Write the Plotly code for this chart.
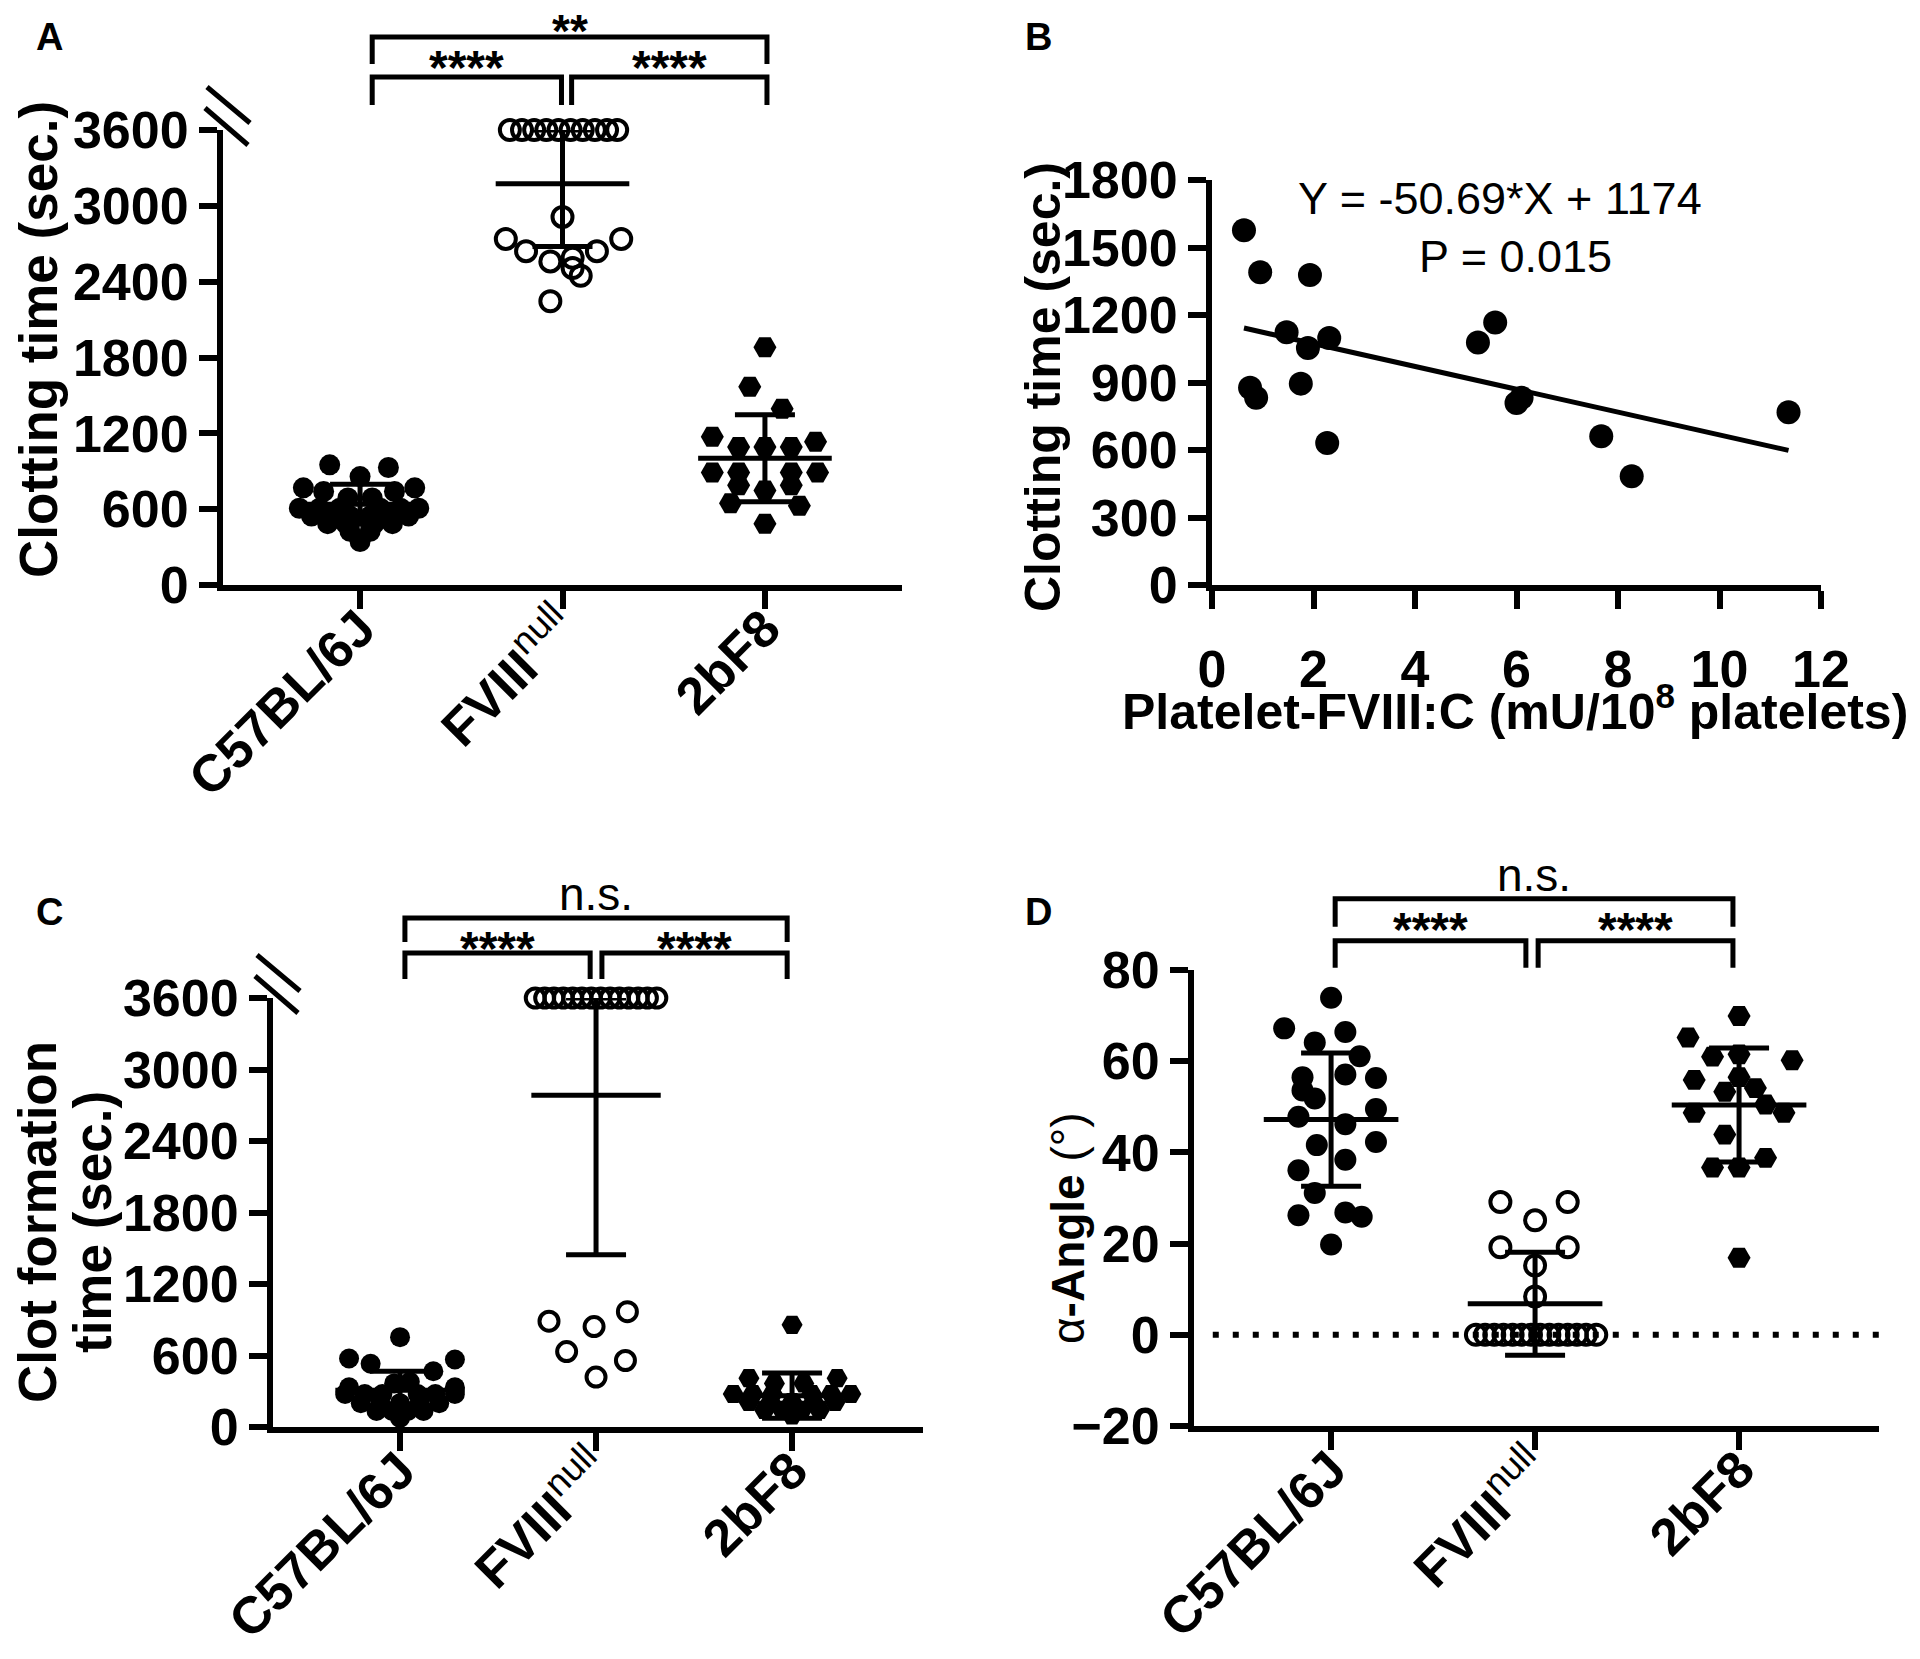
import plotly.graph_objects as go

W, H = 1920, 1659          # browser window
OFF = 8                    # default <body> margin of the page
FW, FH = W - 2 * OFF, H - 2 * OFF
FONT = "Arial, 'Liberation Sans', Helvetica, sans-serif"

# ---------------- data ----------------
group_ticktext = ["<b>C57BL/6J</b>", "<b>FVIII</b><sup>null</sup>", "<b>2bF8</b>"]

# Panel A: clotting time (sec.)
a_c57_off = [-0.15, 0.14, 0.0, -0.28, 0.27, -0.18, 0.17, -0.06, 0.06,
             -0.30, -0.20, -0.10, 0.10, 0.20, 0.29,
             -0.24, -0.14, -0.05, 0.05, 0.14, 0.24,
             -0.16, -0.07, 0.07, 0.16, -0.05, 0.05, 0.0]
a_c57_val = [951, 930, 858, 769, 769, 740, 740, 688, 688,
             607, 607, 607, 607, 607, 607,
             546, 546, 546, 546, 546, 546,
             485, 485, 485, 485, 425, 425, 344]
a_fviii_off = [-0.26, -0.20, -0.14, -0.08, -0.02, 0.04, 0.10, 0.16, 0.22, 0.27,
               0.0, -0.28, 0.29, -0.18, 0.17, -0.06, 0.05, 0.05, 0.09, -0.06]
a_fviii_val = [3600, 3600, 3600, 3600, 3600, 3600, 3600, 3600, 3600, 3600,
               2912, 2738, 2738, 2641, 2641, 2560, 2589, 2508, 2447, 2245]
a_2bf8_off = [0.0, -0.075, 0.085, -0.26, 0.25, -0.13, 0.0, 0.13,
              -0.26, -0.13, 0.13, 0.26, -0.13, 0.0, 0.13, -0.17, 0.17, 0.0]
a_2bf8_val = [1881, 1569, 1395, 1173, 1133, 1092, 1092, 1092,
              890, 890, 890, 890, 789, 748, 789, 647, 627, 485]
a_means = [639, 3175, 1003]
a_sds = [158, 497, 345]
a_yticks = [0, 600, 1200, 1800, 2400, 3000, 3600]

# Panel B: platelet FVIII:C vs clotting time
b_x = [0.63, 0.95, 1.93, 1.47, 1.89, 2.31, 0.75, 0.87, 1.75, 2.27,
       5.24, 5.58, 6.00, 6.10, 7.67, 8.27, 11.36]
b_y = [1577, 1390, 1378, 1123, 1053, 1098, 877, 832, 895, 631,
       1078, 1167, 809, 832, 661, 483, 768]
b_slope = -50.69
b_intercept = 1174
b_xticks = [0, 2, 4, 6, 8, 10, 12]
b_yticks = [0, 300, 600, 900, 1200, 1500, 1800]

# Panel C: clot formation time (sec.)
c_c57_off = [0.0, -0.26, 0.28, -0.15, 0.17, 0.05, -0.03, -0.26, 0.28,
             -0.28, -0.18, -0.09, 0.09, 0.18, 0.28,
             -0.20, -0.10, 0.0, 0.10, 0.20,
             -0.12, -0.04, 0.04, 0.12, 0.0]
c_c57_val = [754, 575, 566, 531, 468, 379, 366, 334, 334,
             277, 277, 277, 277, 277, 277,
             200, 200, 200, 200, 200,
             134, 134, 134, 134, 76]
c_fviii_off = [-0.31, -0.262, -0.215, -0.167, -0.119, -0.072, -0.024,
               0.024, 0.072, 0.119, 0.167, 0.215, 0.262, 0.31,
               -0.24, -0.01, 0.16, -0.15, 0.15, 0.0]
c_fviii_val = [3600] * 14 + [888, 843, 968, 633, 558, 419]
c_2bf8_off = [0.0, -0.22, -0.09, 0.06, 0.23,
              -0.30, -0.20, -0.10, 0.10, 0.20, 0.30,
              -0.22, -0.11, 0.0, 0.11, 0.22,
              -0.14, -0.05, 0.05, 0.14, 0.0]
c_2bf8_val = [857, 410, 366, 366, 410,
              277, 277, 277, 277, 277, 277,
              210, 210, 210, 210, 210,
              143, 143, 143, 143, 98]
c_means = [308, 2784, 263]
c_sds = [160, 1339, 190]
c_yticks = [0, 600, 1200, 1800, 2400, 3000, 3600]

# Panel D: alpha-angle (deg)
d_c57_off = [0.0, -0.23, 0.07, -0.08, 0.14, -0.14, 0.07, 0.22, -0.14, -0.08,
             0.22, -0.16, 0.07, 0.22, -0.07, 0.07, -0.16, -0.08, -0.16, 0.07, 0.15, 0.0]
d_c57_val = [73.9, 67.2, 66.4, 64.1, 61.1, 56.5, 57.1, 56.3, 53.6, 51.8,
             49.5, 47.8, 46.2, 42.3, 41.6, 38.4, 36.1, 31.1, 26.2, 26.8, 25.9, 19.8]
d_fviii_off = [-0.17, 0.16, 0.0, -0.17, 0.16, 0.0, 0.0,
               -0.29, -0.245, -0.2, -0.155, -0.11, -0.065, -0.02,
               0.025, 0.07, 0.115, 0.16, 0.205, 0.25, 0.30]
d_fviii_val = [29.1, 29.1, 25.1, 19.2, 19.2, 15.2, 8.4] + [0] * 14
d_2bf8_off = [0.0, -0.25, -0.13, 0.0, 0.26, -0.22, 0.0, -0.07, 0.08,
              -0.22, 0.22, 0.13, -0.07, -0.13, 0.0, 0.13, 0.0]
d_2bf8_val = [69.9, 65.2, 61.0, 61.5, 60.2, 55.9, 56.5, 53.3, 54.1,
              48.7, 48.7, 50.5, 43.9, 36.7, 36.7, 38.8, 16.9]
d_means = [47.2, 6.8, 50.4]
d_sds = [14.6, 11.3, 12.5]
d_yticks = [-20, 0, 20, 40, 60, 80]

# ---------------- layout boxes (screen pixels) ----------------
panels = {
    "A": dict(x=(223, 902), y=(130, 585), xr=[-0.677, 2.677], yr=[0, 3600], ax=("x", "y")),
    "B": dict(x=(1212, 1821), y=(180, 585), xr=[0, 12], yr=[0, 1800], ax=("x2", "y2")),
    "C": dict(x=(273, 923), y=(998, 1427), xr=[-0.648, 2.668], yr=[0, 3600], ax=("x3", "y3")),
    "D": dict(x=(1194, 1879), y=(970, 1426), xr=[-0.672, 2.686], yr=[-20, 80], ax=("x4", "y4")),
}


def px_x(p, v):
    P = panels[p]
    return P["x"][0] + (v - P["xr"][0]) / (P["xr"][1] - P["xr"][0]) * (P["x"][1] - P["x"][0])


def px_y(p, v):
    P = panels[p]
    return P["y"][1] - (v - P["yr"][0]) / (P["yr"][1] - P["yr"][0]) * (P["y"][1] - P["y"][0])


def paper(px, py):
    return (px - OFF) / FW, 1 - (py - OFF) / FH


fig = go.Figure()

LW = 5


def add_group(p, idx, off, val, symbol, size, open_=False):
    xa, ya = panels[p]["ax"]
    fig.add_trace(go.Scatter(
        x=[idx + o for o in off], y=val, mode="markers", cliponaxis=False,
        marker=dict(symbol=symbol, size=size,
                    color="black", line=dict(width=4 if open_ else 0, color="black")),
        xaxis=xa, yaxis=ya, showlegend=False, hoverinfo="skip"))


def add_stats(p, means, sds):
    xa, ya = panels[p]["ax"]
    ymax = panels[p]["yr"][1]
    upper = [min(m + s, ymax) - m for m, s in zip(means, sds)]
    mx, my = [], []
    for i, m in enumerate(means):
        mx += [i - 0.33, i + 0.33, None]
        my += [m, m, None]
    fig.add_trace(go.Scatter(x=mx, y=my, mode="lines", line=dict(color="black", width=LW),
                             xaxis=xa, yaxis=ya, showlegend=False, hoverinfo="skip"))
    fig.add_trace(go.Scatter(
        x=[0, 1, 2], y=means, mode="markers", marker=dict(size=2, color="rgba(0,0,0,0)"),
        error_y=dict(type="data", symmetric=False, array=upper, arrayminus=sds,
                     width=30, thickness=LW, color="black"),
        xaxis=xa, yaxis=ya, showlegend=False, hoverinfo="skip"))


# Panel A
add_group("A", 0, a_c57_off, a_c57_val, "circle", 21)
add_group("A", 1, a_fviii_off, a_fviii_val, "circle-open", 20, open_=True)
add_group("A", 2, a_2bf8_off, a_2bf8_val, "hexagon2", 23)
add_stats("A", a_means, a_sds)

# Panel B
fig.add_trace(go.Scatter(x=b_x, y=b_y, mode="markers", cliponaxis=False,
                         marker=dict(size=24, color="black"), xaxis="x2", yaxis="y2",
                         showlegend=False, hoverinfo="skip"))
fx = [min(b_x), max(b_x)]
fig.add_trace(go.Scatter(x=fx, y=[b_slope * v + b_intercept for v in fx], mode="lines",
                         line=dict(color="black", width=LW), xaxis="x2", yaxis="y2",
                         showlegend=False, hoverinfo="skip"))

# Panel C
add_group("C", 0, c_c57_off, c_c57_val, "circle", 20)
add_group("C", 1, c_fviii_off, c_fviii_val, "circle-open", 19, open_=True)
add_group("C", 2, c_2bf8_off, c_2bf8_val, "hexagon2", 21)
add_stats("C", c_means, c_sds)

# Panel D
fig.add_trace(go.Scatter(x=[-0.58, panels["D"]["xr"][1]], y=[0, 0], mode="lines",
                         line=dict(color="black", width=6, dash="6px,14px"),
                         xaxis="x4", yaxis="y4", showlegend=False, hoverinfo="skip"))
add_group("D", 0, d_c57_off, d_c57_val, "circle", 22)
add_group("D", 1, d_fviii_off, d_fviii_val, "circle-open", 20, open_=True)
add_group("D", 2, d_2bf8_off, d_2bf8_val, "hexagon2", 23)
add_stats("D", d_means, d_sds)

# ---------------- axes ----------------
TICK_SIZE = 52
common = dict(showline=True, linewidth=6, linecolor="black", ticks="outside", ticklen=18,
              tickwidth=6, tickcolor="black", showgrid=False, zeroline=False, fixedrange=True,
              automargin=False)
lay = {}
for key, p in zip(["", "2", "3", "4"], ["A", "B", "C", "D"]):
    P = panels[p]
    x0p, _ = paper(P["x"][0], 0)
    x1p, _ = paper(P["x"][1], 0)
    _, ybot = paper(0, P["y"][1])
    _, ytop = paper(0, P["y"][0])
    ya_name = "y" + key
    xa_name = "x" + key
    if p == "B":
        xa = dict(domain=[x0p, x1p], range=P["xr"], anchor=ya_name, tickvals=b_xticks,
                  ticklabelstandoff=16,
                  tickfont=dict(size=TICK_SIZE, family=FONT, color="black", weight="bold"), **common)
        yt = b_yticks
    else:
        xa = dict(domain=[x0p, x1p], range=P["xr"], anchor=ya_name, tickvals=[0, 1, 2],
                  ticktext=group_ticktext, tickangle=-45, ticklabelstandoff=-32,
                  tickfont=dict(size=TICK_SIZE, family=FONT, color="black"), **common)
        yt = {"A": a_yticks, "C": c_yticks, "D": d_yticks}[p]
    ya = dict(domain=[ybot, ytop], range=P["yr"], anchor=xa_name, tickvals=yt,
              tickfont=dict(size=TICK_SIZE, family=FONT, color="black", weight="bold"), **common)
    lay["xaxis" + key] = xa
    lay["yaxis" + key] = ya

# ---------------- decorations ----------------
shapes = []
annotations = []


def line_px(x0, y0, x1, y1, w=LW):
    a, b = paper(x0, y0)
    c, d = paper(x1, y1)
    shapes.append(dict(type="line", xref="paper", yref="paper", x0=a, y0=b, x1=c, y1=d,
                       line=dict(color="black", width=w)))


def path_px(pts, w=LW):
    s = ""
    for k, (x, y) in enumerate(pts):
        a, b = paper(x, y)
        s += ("M" if k == 0 else "L") + f"{a:.6f},{b:.6f}"
    shapes.append(dict(type="path", xref="paper", yref="paper", path=s,
                       line=dict(color="black", width=w)))


def text_px(x, y, txt, size, bold=False, angle=0):
    a, b = paper(x, y)
    annotations.append(dict(x=a, y=b, xref="paper", yref="paper", text=txt, showarrow=False,
                            xanchor="center", yanchor="middle", textangle=angle,
                            font=dict(size=size, family=FONT, color="black",
                                      weight="bold" if bold else "normal")))


def brackets(p, xl, xm1, xm2, xr, outer_top, outer_end, inner_top, inner_end,
             top_txt, top_y, left_txt, right_txt, star_y):
    X = lambda v: px_x(p, v)
    Y = lambda v: px_y(p, v)
    path_px([(X(xl), Y(outer_end)), (X(xl), Y(outer_top)), (X(xr), Y(outer_top)), (X(xr), Y(outer_end))])
    path_px([(X(xl), Y(inner_end)), (X(xl), Y(inner_top)), (X(xm1), Y(inner_top)), (X(xm1), Y(inner_end))])
    path_px([(X(xm2), Y(inner_end)), (X(xm2), Y(inner_top)), (X(xr), Y(inner_top)), (X(xr), Y(inner_end))])
    top_bold = top_txt.startswith("*")
    text_px((X(xl) + X(xr)) / 2, Y(top_y), top_txt, 46, bold=top_bold)
    text_px((X(xl) + X(xm1)) / 2, Y(star_y), left_txt, 48, bold=True)
    text_px((X(xm2) + X(xr)) / 2, Y(star_y), right_txt, 48, bold=True)


brackets("A", 0.06, 0.995, 1.045, 2.01, 4335, 4122, 4019, 3797, "**", 4385, "****", "****", 4098)
brackets("C", 0.025, 0.97, 1.03, 1.975, 4271, 4070, 3977, 3759, "n.s.", 4473, "****", "****", 4019)
brackets("D", 0.02, 0.955, 1.015, 1.97, 95.6, 89.5, 86.4, 80.5, "n.s.", 100.9, "****", "****", 88.8)


def axis_break(p):
    x0 = panels[p]["x"][0]
    yt = panels[p]["y"][0]
    line_px(x0 - 16, yt - 43, x0 + 27, yt - 7)
    line_px(x0 - 18, yt - 22, x0 + 25, yt + 15)


axis_break("A")
axis_break("C")

# panel letters
text_px(49, 37, "A", 38, bold=True)
text_px(1038, 37, "B", 38, bold=True)
text_px(49, 912, "C", 38, bold=True)
text_px(1038, 912, "D", 38, bold=True)

# axis titles
text_px(39, 340, "Clotting time (sec.)", 53, bold=True, angle=-90)
text_px(1043, 387, "Clotting time (sec.)", 50, bold=True, angle=-90)
text_px(37, 1222, "Clot formation", 53, bold=True, angle=-90)
text_px(92, 1222, "time (sec.)", 53, bold=True, angle=-90)
text_px(1068, 1228, "α<b>-Angle</b> (°)", 46, bold=False, angle=-90)
text_px(1515, 708, "Platelet-FVIII:C (mU/10<sup>8</sup> platelets)", 50, bold=True)

# regression text
text_px(px_x("B", 5.68), px_y("B", 1720), "Y = -50.69*X + 1174", 45)
text_px(px_x("B", 5.98), px_y("B", 1458), "P = 0.015", 45)

fig.update_layout(
    width=FW, height=FH, margin=dict(l=0, r=0, t=0, b=0, pad=0),
    paper_bgcolor="white", plot_bgcolor="white",
    shapes=shapes, annotations=annotations, showlegend=False, **lay)

fig.write_html("out.html")
